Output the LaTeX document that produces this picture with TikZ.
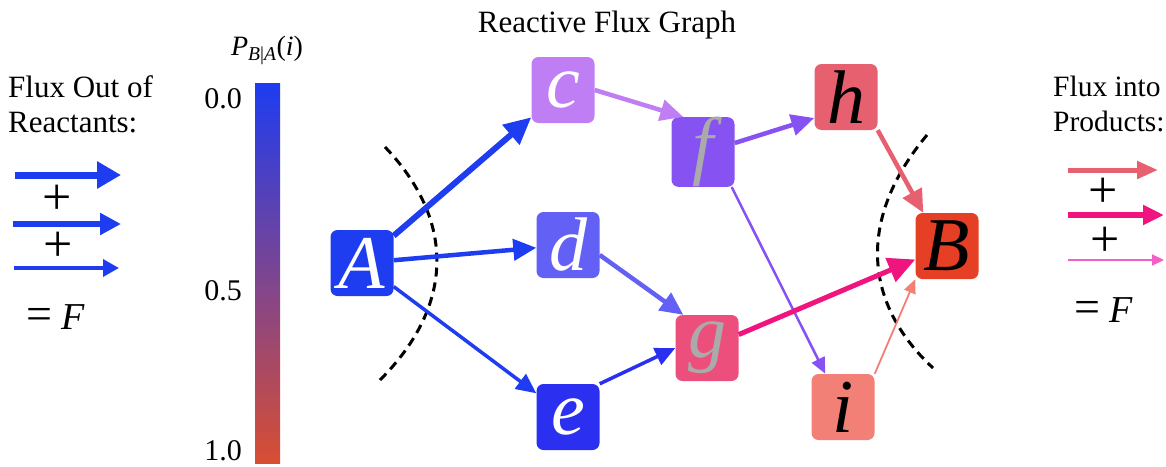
\documentclass[tikz,border=0pt]{standalone}
\usepackage{fontspec}
\setmainfont{Liberation Serif}
\usetikzlibrary{arrows.meta, positioning}
\definecolor{node-a}{RGB}{30, 60, 240}
\definecolor{node-c}{RGB}{192, 126, 245}
\definecolor{node-d}{RGB}{99, 96, 245}
\definecolor{node-e}{RGB}{43, 48, 240}
\definecolor{node-f}{RGB}{135, 82, 242}
\definecolor{node-g}{RGB}{236, 79, 123}
\definecolor{node-h}{RGB}{230, 96, 112}
\definecolor{node-i}{RGB}{242, 128, 118}
\definecolor{node-b}{RGB}{229, 64, 37}
\definecolor{flux-gb}{RGB}{240, 20, 127}
\definecolor{flux-pink}{RGB}{242, 95, 197}
\definecolor{letter-gray}{RGB}{170, 170, 170}
\definecolor{bar-mid}{RGB}{112, 60, 150}
\definecolor{bar-bot}{RGB}{216, 78, 51}

\begin{document}
\begin{tikzpicture}[x=1pt, y=-1pt,
  state/.style={rectangle, rounded corners=7pt, minimum width=63pt,
                minimum height=66pt, inner sep=0pt, text=white,
                font=\fontsize{76}{76}\selectfont\itshape},
  fluxXL/.style={line width=6pt, -{Triangle[length=27pt,width=25pt]}},
  fluxL/.style={line width=4.5pt, -{Triangle[length=23pt,width=21pt]}},
  fluxM/.style={line width=3.5pt, -{Triangle[length=20pt,width=18pt]}},
  fluxS/.style={line width=2.5pt, -{Triangle[length=16pt,width=14pt]}},
  fluxXS/.style={line width=1.8pt, -{Triangle[length=14pt,width=12pt]}},
  cut/.style={black, line width=3pt, dash pattern=on 9pt off 6pt},
  lbl/.style={font=\fontsize{31}{35}\selectfont, align=left, inner sep=0pt},
  tick/.style={font=\fontsize{30}{30}\selectfont, inner sep=0pt, anchor=base east},
  sign/.style={font=\fontsize{52}{52}\selectfont, inner sep=0pt},
  total/.style={font=\fontsize{38}{38}\selectfont, inner sep=0pt}
]
  \useasboundingbox (0,0) rectangle (1166,466);

  % title and side texts
  \node[lbl, anchor=base] (title) at (607,32) {Reactive Flux Graph};
  \node[lbl, anchor=north west] (outtxt) at (8,75) {Flux Out of\\Reactants:};
  \node[lbl, font=\fontsize{29.5}{35}\selectfont, anchor=north west] (intxt)
    at (1053,76) {Flux into\\Products:};

  % colour bar
  \shade[top color=node-a, middle color=bar-mid, bottom color=bar-bot]
    (255,83) rectangle (280,463);
  \node[lbl, font=\fontsize{28}{28}\selectfont] (plabel) at (267,50)
    {\textit{P}\textsubscript{\textit{B}|\textit{A}}(\textit{i})};
  \node[tick] (tick0) at (242,108) {0.0};
  \node[tick] (tick5) at (242,300) {0.5};
  \node[tick] (tick1) at (242,460) {1.0};

  % states
  \node[state, fill=node-a] (A) at (362,263) {A};
  \node[state, fill=node-c] (c) at (563,90)  {c};
  \node[state, fill=node-d] (d) at (568,245) {d};
  \node[state, fill=node-e] (e) at (568,417) {e};
  \node[state, fill=node-f, text=letter-gray] (f) at (703,152) {f};
  \node[state, fill=node-g, text=letter-gray] (g) at (707,348) {g};
  \node[state, fill=node-h, text=black] (h) at (846,97)  {h};
  \node[state, fill=node-i, text=black] (i) at (843,407) {i};
  \node[state, fill=node-b, text=black] (B) at (947,246) {B};

  % dividing surfaces
  \draw[cut] (385,147) .. controls (455,220) and (455,305) .. (380,380);
  \draw[cut] (927,135) .. controls (860,215) and (860,300) .. (933,368);

  % reactive fluxes
  \draw[fluxXL, node-a] (A) -- (c);
  \draw[fluxL, node-a] (A) -- (d);
  \draw[fluxM, node-a] (A) -- (e);
  \draw[fluxL, node-c] (c.east) -- ([xshift=12pt]f.north west);
  \draw[fluxL, node-d] ([yshift=-10pt]d.east) -- ([xshift=8pt]g.north west);
  \draw[fluxM, node-e] (e.north east) -- (g.west);
  \draw[fluxL, node-f] ([yshift=9pt]f.east) -- ([yshift=-21pt]h.west);
  \draw[fluxS, node-f] ([xshift=-3pt]f.south east) -- ([xshift=14pt]i.north west);
  \draw[fluxL, node-h] (h.south east) -- ([xshift=8pt]B.north west);
  \draw[fluxXL, flux-gb, line width=5pt] (g) -- (B);
  \draw[fluxXS, node-i] (i.north east) -- (B.south west);

  % flux out of reactants
  \coordinate (out1s) at (15,175);  \coordinate (out1e) at (121,175);
  \coordinate (out2s) at (13,224);  \coordinate (out2e) at (121,224);
  \coordinate (out3s) at (14,268);  \coordinate (out3e) at (119,268);
  \draw[node-a, line width=7pt, -{Triangle[length=24pt,width=26pt]}] (out1s) -- (out1e);
  \draw[node-a, line width=5.5pt, -{Triangle[length=21pt,width=21pt]}] (out2s) -- (out2e);
  \draw[node-a, line width=3.5pt, -{Triangle[length=16pt,width=17pt]}] (out3s) -- (out3e);
  \node[sign] (outp1) at (57,200) {+};
  \node[sign] (outp2) at (58,247) {+};
  \node[total, anchor=base] (outsum) at (56,329)
    {{\fontsize{46}{46}\selectfont =} \textit{F}};

  % flux into products
  \coordinate (in1s) at (1068,170);  \coordinate (in1e) at (1158,170);
  \coordinate (in2s) at (1068,215);  \coordinate (in2e) at (1164,215);
  \coordinate (in3s) at (1068,260);  \coordinate (in3e) at (1164,260);
  \draw[node-h, line width=5pt, -{Triangle[length=21pt,width=17pt]}] (in1s) -- (in1e);
  \draw[flux-gb, line width=5.5pt, -{Triangle[length=21pt,width=19pt]}] (in2s) -- (in2e);
  \draw[flux-pink, line width=2pt, -{Triangle[length=12pt,width=11pt]}] (in3s) -- (in3e);
  \node[sign] (inp1) at (1103,193) {+};
  \node[sign] (inp2) at (1105,242) {+};
  \node[total, anchor=base] (insum) at (1104,322)
    {{\fontsize{46}{46}\selectfont =} \textit{F}};
\end{tikzpicture}
\end{document}
